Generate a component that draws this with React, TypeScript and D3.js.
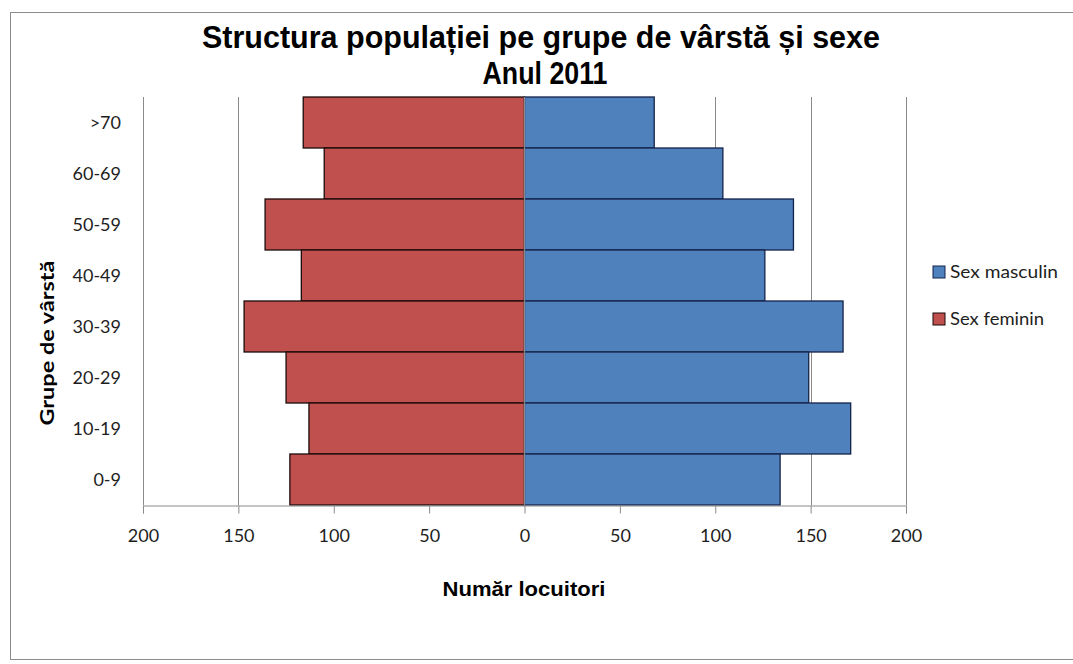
import { useRef, useEffect } from 'react'
import * as d3 from 'd3'

// age groups, top to bottom as in the chart
const groups = ['>70', '60-69', '50-59', '40-49', '30-39', '20-29', '10-19', '0-9']
const masculin = [68, 104, 141, 126, 167, 149, 171, 134]
const feminin = [116, 105, 136, 117, 147, 125, 113, 123]
const xTicks = [-200, -150, -100, -50, 0, 50, 100, 150, 200]

const titleLines = ['Structura populației pe grupe de vârstă și sexe', 'Anul 2011']
const legendNames = ['Sex masculin', 'Sex feminin']

function App() {
  const ref = useRef<SVGSVGElement>(null)

  useEffect(() => {
    const width = 1073,
      height = 664
    const plot = { left: 143, right: 906, top: 97, bottom: 505 }

    const svg = d3.select(ref.current)
    svg.selectAll('*').remove()
    svg.attr('width', width).attr('height', height)

    // chart frame
    svg.append('rect')
      .attr('x', 10.5).attr('y', 12.5)
      .attr('width', 1080).attr('height', 647)
      .attr('fill', '#fff')
      .attr('stroke', '#8c8c8c')

    const x = d3.scaleLinear().domain([-200, 200]).range([plot.left, plot.right])
    const y = d3.scaleBand().domain(groups).range([plot.top, plot.bottom]).padding(0)

    // vertical gridlines
    svg.append('g')
      .selectAll('line')
      .data(xTicks.filter(d => d !== 0))
      .enter()
      .append('line')
      .attr('x1', d => Math.round(x(d)) + 0.5)
      .attr('x2', d => Math.round(x(d)) + 0.5)
      .attr('y1', plot.top)
      .attr('y2', plot.bottom)
      .attr('stroke', '#8a8a8a')

    // bars
    svg.append('g')
      .selectAll('rect')
      .data(groups)
      .enter()
      .append('rect')
      .attr('x', (d, i) => x(-feminin[i]))
      .attr('y', d => y(d)!)
      .attr('width', (d, i) => x(0) - x(-feminin[i]))
      .attr('height', y.bandwidth())
      .attr('fill', '#C0504D')
      .attr('stroke', '#1a0a0a')
      .attr('stroke-width', 1.3)

    svg.append('g')
      .selectAll('rect')
      .data(groups)
      .enter()
      .append('rect')
      .attr('x', x(0))
      .attr('y', d => y(d)!)
      .attr('width', (d, i) => x(masculin[i]) - x(0))
      .attr('height', y.bandwidth())
      .attr('fill', '#4F81BD')
      .attr('stroke', '#14234a')
      .attr('stroke-width', 1.3)

    // center axis
    svg.append('line')
      .attr('x1', x(0)).attr('x2', x(0))
      .attr('y1', plot.top).attr('y2', plot.bottom)
      .attr('stroke', '#8a8a8a')
      .attr('stroke-width', 1.2)

    // x axis
    const xAxis = d3.axisBottom(x)
      .tickValues(xTicks)
      .tickSize(8)
      .tickPadding(16)
      .tickFormat(d => String(Math.abs(+d)))
    const gx = svg.append('g')
      .attr('transform', 'translate(0,' + (plot.bottom + 0.5) + ')')
      .call(xAxis)
    gx.select('.domain').attr('stroke', '#8a8a8a')
    gx.selectAll('.tick line').attr('stroke', '#8a8a8a')
    gx.selectAll('.tick text')
      .style('font', '18px Lato')
      .attr('fill', '#1e1e1e')

    // category labels
    svg.append('g')
      .selectAll('text')
      .data(groups)
      .enter()
      .append('text')
      .attr('x', 121)
      .attr('y', d => y(d)! + y.bandwidth() / 2)
      .attr('dy', '0.35em')
      .attr('text-anchor', 'end')
      .style('font', '18px Lato')
      .attr('fill', '#1e1e1e')
      .text(d => d)

    // title
    svg.append('text')
      .attr('x', 541).attr('y', 48)
      .attr('text-anchor', 'middle')
      .attr('textLength', 678)
      .attr('lengthAdjust', 'spacingAndGlyphs')
      .style('font', 'bold 31px "Liberation Sans"')
      .text(titleLines[0])
    svg.append('text')
      .attr('x', 545).attr('y', 84)
      .attr('text-anchor', 'middle')
      .attr('textLength', 125)
      .attr('lengthAdjust', 'spacingAndGlyphs')
      .style('font', 'bold 31px "Liberation Sans"')
      .text(titleLines[1])

    // axis titles
    svg.append('text')
      .attr('x', 524).attr('y', 596)
      .attr('text-anchor', 'middle')
      .attr('textLength', 163)
      .attr('lengthAdjust', 'spacingAndGlyphs')
      .style('font', 'bold 21px "Liberation Sans"')
      .text('Număr locuitori')
    svg.append('text')
      .attr('transform', 'translate(54,343)rotate(-90)')
      .attr('text-anchor', 'middle')
      .attr('textLength', 165)
      .attr('lengthAdjust', 'spacingAndGlyphs')
      .style('font', 'bold 18px Lato')
      .text('Grupe de vârstă')

    // legend
    const colors = ['#4F81BD', '#C0504D']
    const strokes = ['#14234a', '#1a0a0a']
    const legend = svg.append('g')
      .selectAll('g')
      .data(legendNames)
      .enter()
      .append('g')
      .attr('transform', (d, i) => 'translate(933,' + (266 + i * 47) + ')')
    legend.append('rect')
      .attr('width', 12).attr('height', 12)
      .attr('fill', (d, i) => colors[i])
      .attr('stroke', (d, i) => strokes[i])
    legend.append('text')
      .attr('x', 17).attr('y', 6)
      .attr('dy', '0.35em')
      .attr('textLength', (d, i) => (i === 0 ? 108 : 94))
      .attr('lengthAdjust', 'spacingAndGlyphs')
      .style('font', '18px Lato')
      .attr('fill', '#1e1e1e')
      .text(d => d)
  }, [])

  return (
    <svg ref={ref} style={{ position: 'absolute', left: 0, top: 0, background: '#fff' }} />
  )
}

export default App
